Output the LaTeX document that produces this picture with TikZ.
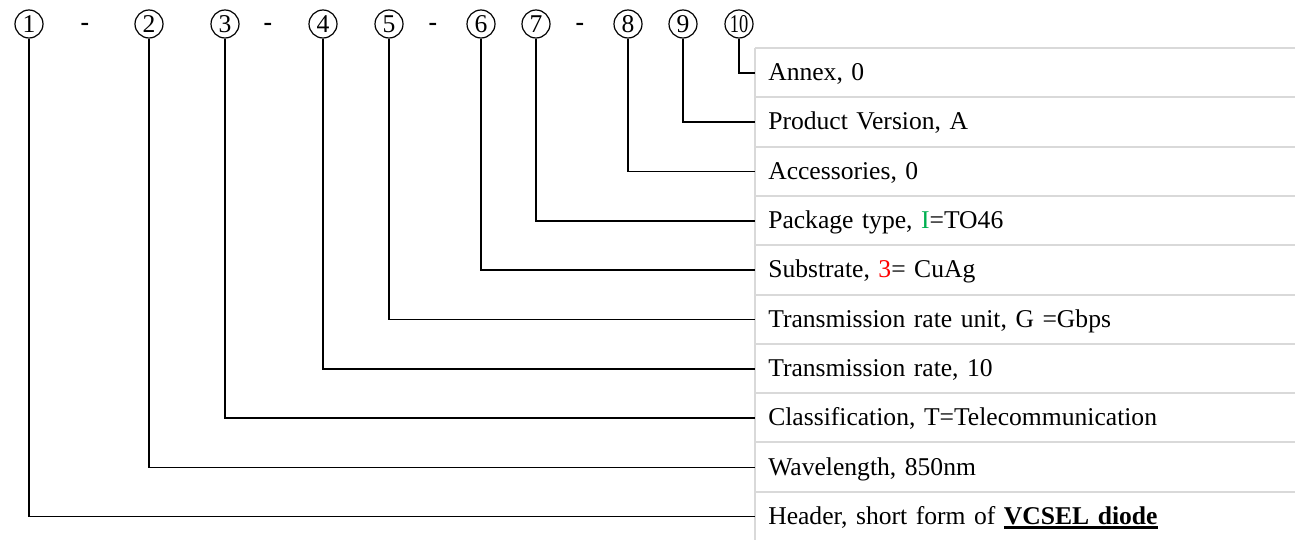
\documentclass[tikz,border=0pt]{standalone}
\usepackage{fontspec}
\setmainfont{Liberation Serif}
\usepackage{xcolor}
\usetikzlibrary{positioning}
\definecolor{vertcode}{HTML}{00B050}
\definecolor{grisligne}{HTML}{D9D9D9}
\newlength{\largeursoul}
\newcommand{\soulignegras}[1]{\settowidth{\largeursoul}{#1}\rlap{\rule[-3.5pt]{\largeursoul}{2.2pt}}#1}

\begin{document}
\begin{tikzpicture}[x=0.75pt, y=-0.75pt, node distance=36.98pt, font=\fontsize{19.2}{23}\selectfont]
% Définition des styles
    \tikzstyle{numero} = [circle, draw, line width=0.9pt, minimum size=21pt, inner sep=0pt]
    \tikzstyle{tiret} = [inner sep=0pt, anchor=base, font=\fontsize{19.2}{23}\selectfont\bfseries]
    \tikzstyle{champ} = [rectangle, minimum width=405pt, minimum height=36.98pt, text width=385.5pt, inner xsep=9.75pt, inner ysep=0pt, text height=1.3em, text depth=0.14em, align=left]
    \tikzstyle{grille} = [draw=grisligne, line width=1.5pt]
    \tikzstyle{trait} = [draw, line width=1.2pt]

    \useasboundingbox (0,0) rectangle (1295,539);

    % Numéros encerclés et tirets
    \foreach \n/\x in {1/29, 2/149, 3/225, 4/323, 5/389, 6/481, 7/536, 8/628, 9/683}
        \node [numero] (num\n) at (\x,24) {\n};
    \node [numero] (num10) at (739,24) {\scalebox{0.72}[1]{10}};
    \node [tiret] (t1) at (85,30) {-};
    \node [tiret] (t2) at (268,30) {-};
    \node [tiret] (t3) at (433,30) {-};
    \node [tiret] (t4) at (580,30) {-};

    % Lignes du tableau
    \node [champ, anchor=north west] (r1) at (755,48) {Annex, 0};
    \node [champ, below of=r1] (r2) {Product Version, A};
    \node [champ, below of=r2] (r3) {Accessories, 0};
    \node [champ, below of=r3] (r4) {Package type, \textcolor{vertcode}{I}=TO46};
    \node [champ, below of=r4] (r5) {Substrate, \textcolor{red}{3}= CuAg};
    \node [champ, below of=r5] (r6) {Transmission rate unit, G =Gbps};
    \node [champ, below of=r6] (r7) {Transmission rate, 10};
    \node [champ, below of=r7] (r8) {Classification, T=Telecommunication};
    \node [champ, below of=r8] (r9) {Wavelength, 850nm};
    \node [champ, below of=r9] (r10) {Header, short form of \textbf{\soulignegras{VCSEL diode}}};

    % Grille grise
    \foreach \i in {1,...,10}
        \draw [grille] (r\i.north west) -- (r\i.north east);
    \draw [grille] (r1.north west) -- (r10.south west);

    % Connexions
    \foreach \n in {1,...,10} {
        \pgfmathtruncatemacro{\m}{11-\n}
        \path [trait] (num\n) |- (r\m.west);
    }
\end{tikzpicture}
\end{document}
